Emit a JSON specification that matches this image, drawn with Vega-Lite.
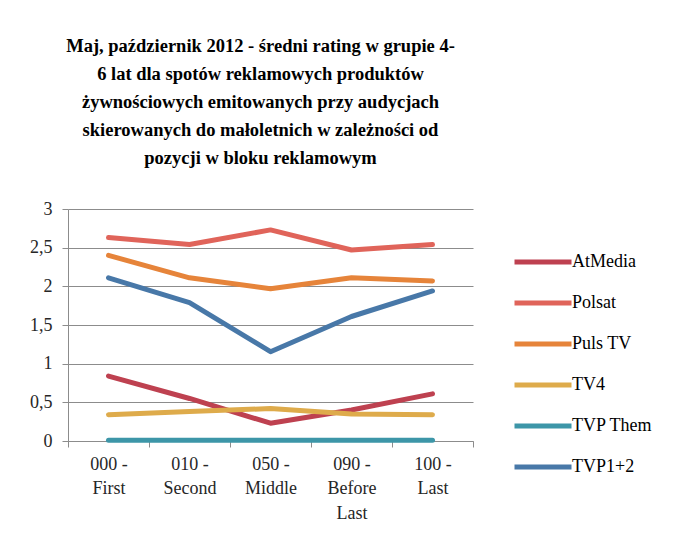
{
  "$schema": "https://vega.github.io/schema/vega-lite/v6.json",
  "width": 405,
  "height": 232,
  "autosize": "none",
  "padding": {"left": 68, "top": 209, "right": 209, "bottom": 96},
  "background": "white",
  "title": {
    "text": ["Maj, październik 2012 - średni rating w grupie 4-", "6 lat dla spotów reklamowych produktów", "żywnościowych emitowanych przy audycjach", "skierowanych do małoletnich w zależności od", "pozycji w bloku reklamowym"],
    "font": "Liberation Serif",
    "fontSize": 18.5,
    "fontWeight": "bold",
    "color": "#000000",
    "lineHeight": 28,
    "anchor": "middle",
    "offset": 33,
    "dx": -10
  },
  "data": {
    "values": [
      {"pos": "000 - First", "station": "AtMedia", "value": 0.84},
      {"pos": "010 - Second", "station": "AtMedia", "value": 0.55},
      {"pos": "050 - Middle", "station": "AtMedia", "value": 0.23},
      {"pos": "090 - Before Last", "station": "AtMedia", "value": 0.40},
      {"pos": "100 - Last", "station": "AtMedia", "value": 0.61},
      {"pos": "000 - First", "station": "Polsat", "value": 2.63},
      {"pos": "010 - Second", "station": "Polsat", "value": 2.54},
      {"pos": "050 - Middle", "station": "Polsat", "value": 2.73},
      {"pos": "090 - Before Last", "station": "Polsat", "value": 2.47},
      {"pos": "100 - Last", "station": "Polsat", "value": 2.54},
      {"pos": "000 - First", "station": "Puls TV", "value": 2.40},
      {"pos": "010 - Second", "station": "Puls TV", "value": 2.11},
      {"pos": "050 - Middle", "station": "Puls TV", "value": 1.97},
      {"pos": "090 - Before Last", "station": "Puls TV", "value": 2.11},
      {"pos": "100 - Last", "station": "Puls TV", "value": 2.07},
      {"pos": "000 - First", "station": "TV4", "value": 0.34},
      {"pos": "010 - Second", "station": "TV4", "value": 0.38},
      {"pos": "050 - Middle", "station": "TV4", "value": 0.42},
      {"pos": "090 - Before Last", "station": "TV4", "value": 0.35},
      {"pos": "100 - Last", "station": "TV4", "value": 0.34},
      {"pos": "000 - First", "station": "TVP Them", "value": 0.01},
      {"pos": "010 - Second", "station": "TVP Them", "value": 0.01},
      {"pos": "050 - Middle", "station": "TVP Them", "value": 0.01},
      {"pos": "090 - Before Last", "station": "TVP Them", "value": 0.01},
      {"pos": "100 - Last", "station": "TVP Them", "value": 0.01},
      {"pos": "000 - First", "station": "TVP1+2", "value": 2.11},
      {"pos": "010 - Second", "station": "TVP1+2", "value": 1.79},
      {"pos": "050 - Middle", "station": "TVP1+2", "value": 1.155},
      {"pos": "090 - Before Last", "station": "TVP1+2", "value": 1.61},
      {"pos": "100 - Last", "station": "TVP1+2", "value": 1.94}
    ]
  },
  "mark": {"type": "line", "strokeWidth": 5, "strokeCap": "round", "strokeJoin": "round"},
  "encoding": {
    "x": {
      "field": "pos",
      "type": "nominal",
      "bandPosition": 0.5,
      "scale": {"type": "band", "paddingInner": 0, "paddingOuter": 0},
      "axis": {
        "title": null,
        "labelAngle": 0,
        "grid": false,
        "tickBand": "extent",
        "domainColor": "#8c8c8c",
        "tickColor": "#8c8c8c",
        "tickSize": 6,
        "labelFont": "Liberation Serif",
        "labelFontSize": 18,
        "labelColor": "#262626",
        "labelLineHeight": 24.5,
        "labelPadding": 8,
        "labelExpr": "split(replace(replace(datum.label, ' - ', ' -|'), 'Before ', 'Before|'), '|')"
      }
    },
    "y": {
      "field": "value",
      "type": "quantitative",
      "scale": {"domain": [0, 3], "nice": false},
      "axis": {
        "title": null,
        "values": [0, 0.5, 1, 1.5, 2, 2.5, 3],
        "labelExpr": "replace(format(datum.value, '~g'), '.', ',')",
        "grid": true,
        "gridColor": "#8c8c8c",
        "domainColor": "#8c8c8c",
        "tickColor": "#8c8c8c",
        "tickSize": 6,
        "labelFont": "Liberation Serif",
        "labelFontSize": 18,
        "labelColor": "#262626",
        "labelPadding": 10
      }
    },
    "color": {
      "field": "station",
      "type": "nominal",
      "scale": {
        "domain": ["AtMedia", "Polsat", "Puls TV", "TV4", "TVP Them", "TVP1+2"],
        "range": ["#BE4150", "#E0645A", "#E6843A", "#DEAB4B", "#3D96A8", "#4878A8"]
      },
      "legend": {
        "title": null,
        "orient": "none",
        "legendX": 444,
        "legendY": 22,
        "symbolType": "stroke",
        "symbolSize": 3249,
        "symbolStrokeWidth": 5,
        "labelFont": "Liberation Serif",
        "labelFontSize": 18,
        "labelColor": "#000000",
        "labelOffset": -2,
        "rowPadding": -4.6
      }
    }
  },
  "config": {
    "view": {"stroke": null}
  }
}
